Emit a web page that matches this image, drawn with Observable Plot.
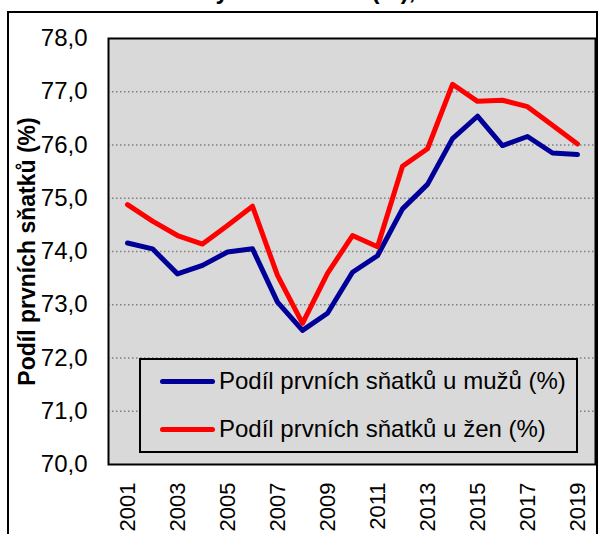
<!DOCTYPE html>
<html>
<head>
<meta charset="utf-8">
<script src="https://cdn.jsdelivr.net/npm/d3@7"></script>
<script src="https://cdn.jsdelivr.net/npm/@observablehq/plot@0.6"></script>
<style>
  html, body { margin: 0; padding: 0; background: #fff; overflow: hidden; }
  body { width: 609px; height: 534px; position: relative; font-family: "Liberation Sans", Arial, sans-serif; }
  #title { position: absolute; left: 2px; top: -23px; font-weight: bold; font-size: 24px; white-space: nowrap; color: #000; }
  #outer { position: absolute; left: 7px; top: 11px; width: 591px; height: 560px; border: 2px solid #000; box-sizing: border-box; }
  #chart { position: absolute; left: 0; top: 0; }
  #legend { position: absolute; left: 139px; top: 358px; width: 439px; height: 95px; border: 2px solid #000; box-sizing: border-box; background: #d9d9d9; }
  .item { position: absolute; left: 19px; height: 24px; display: flex; align-items: center; font-size: 24px; white-space: nowrap; color: #000; }
  .swatch { width: 55px; height: 5px; border-radius: 3px; margin-right: 4px; flex: none; }
</style>
</head>
<body>
<div id="title">Graf 3: První sňatky mužů a žen (%), 2001–2019</div>
<div id="outer"></div>
<div id="chart"></div>
<div id="legend"></div>
<script>
const years = [2001,2002,2003,2004,2005,2006,2007,2008,2009,2010,2011,2012,2013,2014,2015,2016,2017,2018,2019];
const muzi = [74.16,74.05,73.58,73.74,73.99,74.05,73.05,72.52,72.84,73.61,73.92,74.80,75.26,76.12,76.54,75.99,76.16,75.85,75.82];
const zeny = [74.88,74.57,74.30,74.14,74.49,74.85,73.55,72.65,73.59,74.30,74.09,75.60,75.93,77.14,76.82,76.84,76.72,76.37,76.02];
const seriesNames = ["Podíl prvních sňatků u mužů (%)", "Podíl prvních sňatků u žen (%)"];
const seriesColors = ["#000099", "#ff0000"];
const yTicks = [70,71,72,73,74,75,76,77,78];
const gridTicks = [71,72,73,74,75,76,77];
const xTicks = years.filter(y => y % 2 === 1);
const yLabel = "Podíl prvních sňatků (%)";

const data = [
  ...years.map((y, i) => ({year: y, value: muzi[i], s: seriesNames[0]})),
  ...years.map((y, i) => ({year: y, value: zeny[i], s: seriesNames[1]}))
];

const fmt = d => d.toFixed(1).replace(".", ",");

const chart = Plot.plot({
  width: 609,
  height: 534,
  marginLeft: 108,
  marginRight: 14,
  marginTop: 38,
  marginBottom: 70,
  style: {fontFamily: "'Liberation Sans', Arial, sans-serif", fontSize: "24px", background: "transparent", color: "#000"},
  x: {type: "point", domain: years, padding: 0.5, align: 0.5},
  y: {domain: [70, 78]},
  color: {domain: seriesNames, range: seriesColors},
  marks: [
    Plot.frame({fill: "#d9d9d9"}),
    Plot.gridY(gridTicks, {stroke: "#7f7f7f", strokeOpacity: 1, strokeWidth: 1.5, strokeDasharray: "1.5,2.5"}),
    Plot.axisY(yTicks, {tickSize: 0, tickPadding: 21, tickFormat: fmt, label: null, fontSize: 24}),
    Plot.axisX(xTicks, {tickSize: 0, tickPadding: 18, tickRotate: -90, tickFormat: d => String(d), label: null, fontSize: 22}),
    Plot.lineY(data, {x: "year", y: "value", z: "s", stroke: "s", strokeWidth: 5, strokeLinejoin: "round", strokeLinecap: "round"}),
    Plot.frame({stroke: "#000", strokeWidth: 2}),
    Plot.text([yLabel], {text: d => d, frameAnchor: "left", textAnchor: "middle", dx: -81, rotate: -90, fontWeight: "bold", fontSize: 23})
  ]
});
document.getElementById("chart").appendChild(chart);

const legend = document.getElementById("legend");
const tops = [9, 57];
seriesNames.forEach((n, i) => {
  const it = document.createElement("div");
  it.className = "item";
  it.style.top = tops[i] + "px";
  const sw = document.createElement("div");
  sw.className = "swatch";
  sw.style.background = seriesColors[i];
  const tx = document.createElement("span");
  tx.textContent = n;
  it.appendChild(sw);
  it.appendChild(tx);
  legend.appendChild(it);
});
</script>
</body>
</html>
